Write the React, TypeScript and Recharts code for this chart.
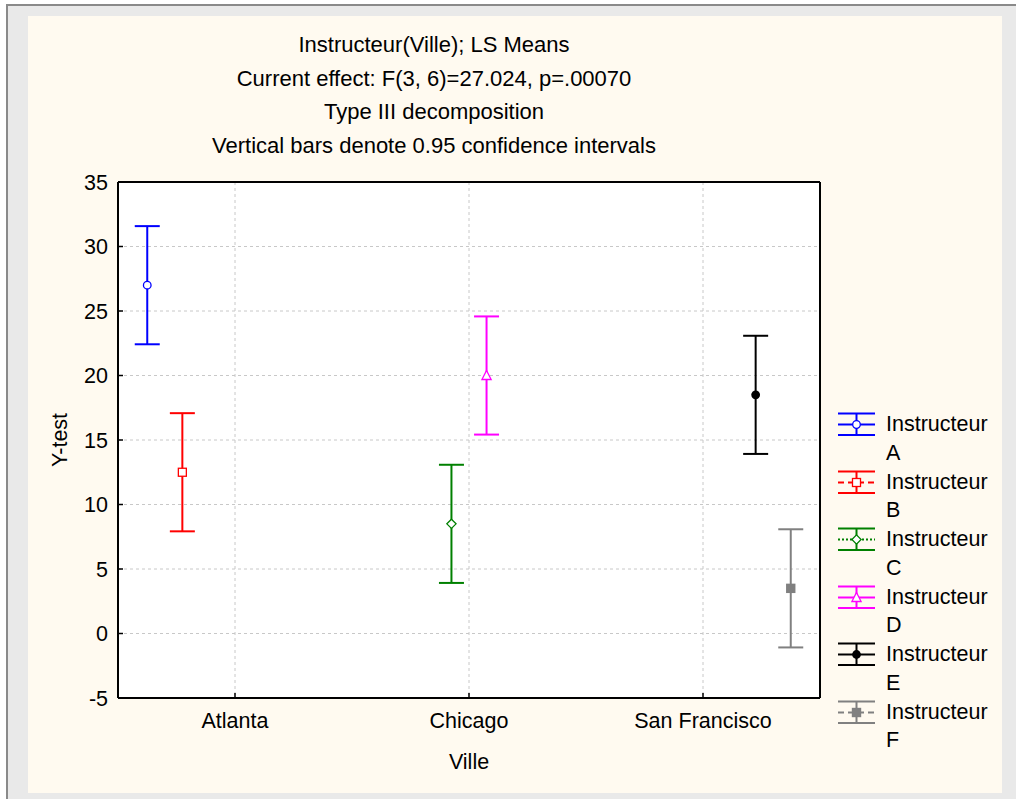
import React from 'react';
import { ComposedChart, Scatter, ErrorBar, XAxis, YAxis, CartesianGrid, Legend } from 'recharts';

const cities = ['Atlanta', 'Chicago', 'San Francisco'];
const instructors = ['A', 'B', 'C', 'D', 'E', 'F'];
const instructorCity = [0, 0, 1, 1, 2, 2];
const lsMeans = [27, 12.5, 8.5, 20, 18.5, 3.5];
const ciHalfWidth = [4.58, 4.58, 4.58, 4.58, 4.58, 4.58];
const yTicks = [-5, 0, 5, 10, 15, 20, 25, 30, 35];
const titleLines = [
  'Instructeur(Ville); LS Means',
  'Current effect: F(3, 6)=27.024, p=.00070',
  'Type III decomposition',
  'Vertical bars denote 0.95 confidence intervals',
];

const colors = ['#0000ff', '#ff0000', '#008000', '#ff00ff', '#000000', '#808080'];
const markerKinds = ['circleOpen', 'squareOpen', 'diamondOpen', 'triangleOpen', 'circle', 'square'];
const legendDash = ['', '6 4', '2 2', '', '', '6 4'];

const FONT = '"Liberation Sans", Arial, sans-serif';
const cityTicks = cities.map((_, i) => i + 0.5);
const slot = 0.15;

// one scatter series per instructor, shifted within its city so they don't overlap
const series = instructors.map((id, i) => ({
  name: `Instructeur ${id}`,
  data: [
    {
      x: instructorCity[i] + 0.5 + (i - (instructors.length - 1) / 2) * slot,
      y: lsMeans[i],
      ci: ciHalfWidth[i],
    },
  ],
}));

function Marker({ kind, cx, cy, color }: { kind: string; cx: number; cy: number; color: string }) {
  const sw = 1.3;
  switch (kind) {
    case 'circleOpen':
      return <circle cx={cx} cy={cy} r={3.8} fill="#fff" stroke={color} strokeWidth={sw} />;
    case 'squareOpen':
      return <rect x={cx - 4} y={cy - 4} width={8} height={8} fill="#fff" stroke={color} strokeWidth={sw} />;
    case 'diamondOpen':
      return (
        <polygon
          points={`${cx},${cy - 4.6} ${cx + 4.6},${cy} ${cx},${cy + 4.6} ${cx - 4.6},${cy}`}
          fill="#fff"
          stroke={color}
          strokeWidth={sw}
        />
      );
    case 'triangleOpen':
      return (
        <polygon
          points={`${cx},${cy - 5} ${cx + 4.6},${cy + 4} ${cx - 4.6},${cy + 4}`}
          fill="#fff"
          stroke={color}
          strokeWidth={sw}
        />
      );
    case 'circle':
      return <circle cx={cx} cy={cy} r={4.4} fill={color} />;
    default:
      return <rect x={cx - 4.7} y={cy - 4.7} width={9.4} height={9.4} fill={color} />;
  }
}

function LegendBox({ payload }: any) {
  return (
    <div style={{ fontFamily: FONT, fontSize: 21.5, lineHeight: '28.75px', color: '#000' }}>
      {series.map((s, i) => (
        <div key={s.name} style={{ display: 'flex', height: 57.5 }}>
          <svg width={37} height={28} style={{ flex: 'none' }}>
            <line x1={0} x2={37} y1={3.5} y2={3.5} stroke={colors[i]} strokeWidth={2} />
            <line x1={0} x2={37} y1={25} y2={25} stroke={colors[i]} strokeWidth={2} />
            <line x1={18.5} x2={18.5} y1={3.5} y2={25} stroke={colors[i]} strokeWidth={2} />
            <line
              x1={0}
              x2={37}
              y1={14.5}
              y2={14.5}
              stroke={colors[i]}
              strokeWidth={2}
              strokeDasharray={legendDash[i] || undefined}
            />
            <Marker kind={markerKinds[i]} cx={18.5} cy={14.5} color={colors[i]} />
          </svg>
          <div style={{ marginLeft: 11, width: 112 }}>{payload?.[i]?.value ?? s.name}</div>
        </div>
      ))}
    </div>
  );
}

const tickStyle = { fill: '#000', fontSize: 21.5, fontFamily: FONT };
const frameLine = { stroke: '#000', strokeWidth: 2 };
const frameTick = { stroke: '#000', strokeWidth: 1.5 };

export default function App() {
  return (
    <div style={{ position: 'absolute', left: 0, top: 0, width: 1016, height: 799, background: '#fff', overflow: 'hidden', fontFamily: FONT }}>
      <div
        style={{
          position: 'absolute',
          left: 6,
          top: 4,
          right: 0,
          bottom: 0,
          background: '#e9e9e9',
          borderLeft: '2px solid #8a8a8a',
          borderTop: '2px solid #8a8a8a',
        }}
      />
      <div style={{ position: 'absolute', left: 28, top: 16, width: 974, height: 777, background: '#fffaf0' }} />

      <div style={{ position: 'absolute', left: 28, top: 16 }}>
        <ComposedChart width={974} height={777} margin={{ top: 165, right: 181, bottom: 55, left: 0 }}>
          <CartesianGrid fill="#fff" stroke="#c8c8c8" strokeDasharray="3 3" />
          <XAxis
            type="number"
            dataKey="x"
            domain={[0, 3]}
            ticks={cityTicks}
            interval={0}
            tickFormatter={(v: number) => cities[Math.floor(v)]}
            height={40}
            tickSize={-5}
            tickMargin={20}
            tick={tickStyle}
            axisLine={frameLine}
            tickLine={frameTick}
          />
          <XAxis
            xAxisId="top"
            orientation="top"
            type="number"
            domain={[0, 3]}
            ticks={cityTicks}
            interval={0}
            height={1}
            tick={false}
            tickSize={-5}
            axisLine={frameLine}
            tickLine={frameTick}
          />
          <YAxis
            type="number"
            dataKey="y"
            domain={[-5, 35]}
            ticks={yTicks}
            interval={0}
            width={90}
            tickSize={-5}
            tickMargin={15}
            tick={tickStyle}
            axisLine={frameLine}
            tickLine={frameTick}
          />
          <YAxis
            yAxisId="right"
            orientation="right"
            type="number"
            domain={[-5, 35]}
            ticks={yTicks}
            interval={0}
            width={1}
            tick={false}
            tickSize={-5}
            axisLine={frameLine}
            tickLine={frameTick}
          />
          {series.map((s, i) => (
            <Scatter
              key={s.name}
              name={s.name}
              data={s.data}
              fill={colors[i]}
              isAnimationActive={false}
              shape={(p: any) => <Marker kind={markerKinds[i]} cx={p.cx} cy={p.cy} color={colors[i]} />}
            >
              <ErrorBar dataKey="ci" direction="y" width={12.5} stroke={colors[i]} strokeWidth={2} />
            </Scatter>
          ))}
          <Legend
            layout="vertical"
            align="center"
            verticalAlign="middle"
            content={(props: any) => <LegendBox payload={props.payload} />}
            wrapperStyle={{ position: 'absolute', left: 810, top: 394, width: 170 }}
          />
        </ComposedChart>
      </div>

      <div
        style={{
          position: 'absolute',
          left: 134,
          top: 28,
          width: 600,
          textAlign: 'center',
          fontSize: 22,
          lineHeight: '33.7px',
          color: '#000',
        }}
      >
        {titleLines.map((t) => (
          <div key={t}>{t}</div>
        ))}
      </div>
      <div style={{ position: 'absolute', left: 369, top: 748, width: 200, textAlign: 'center', fontSize: 21.5, lineHeight: '28px' }}>
        Ville
      </div>
      <div
        style={{
          position: 'absolute',
          left: 10,
          top: 426,
          width: 100,
          textAlign: 'center',
          fontSize: 21.5,
          lineHeight: '28px',
          transform: 'rotate(-90deg)',
        }}
      >
        Y-test
      </div>
    </div>
  );
}
